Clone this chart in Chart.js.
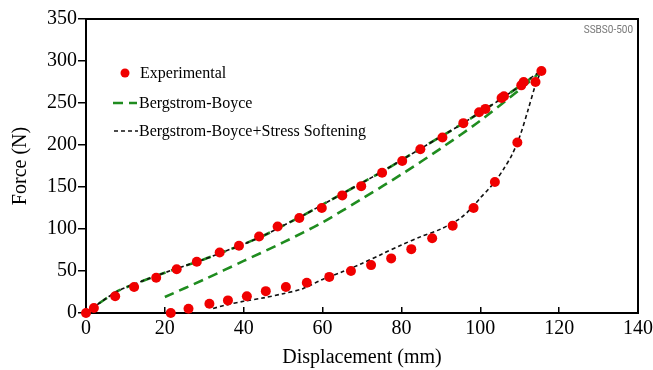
<!DOCTYPE html>
<html>
<head>
<meta charset="utf-8">
<script src="https://cdn.jsdelivr.net/npm/chart.js@4.4.1/dist/chart.umd.min.js"></script>
<style>
  html, body { margin: 0; padding: 0; background: #fff; }
</style>
</head>
<body>
<canvas id="forceChart" width="653" height="370"></canvas>
<script>
// experimental points: loading branch then unloading branch
const expX = [0, 2, 7.4, 12.2, 17.8, 23, 28.1, 33.9, 38.8, 43.9, 48.6, 54.1, 59.8, 65, 69.8, 75.1, 80.2, 84.8, 90.4, 95.7, 99.7, 101.3, 105.4, 106, 110.4, 111, 115.5,
              114, 109.4, 103.7, 98.3, 93, 87.8, 82.5, 77.4, 72.3, 67.2, 61.7, 56, 50.7, 45.6, 40.8, 36, 31.3, 26, 21.5];
const expY = [0, 6, 20, 31, 42, 52, 61, 72, 80, 91, 103, 113, 125, 140, 151, 167, 181, 195, 209, 226, 239, 243, 256, 258, 271, 275, 288,
              275, 203, 156, 125, 104, 89, 76, 65, 57, 50, 43, 36, 31, 26, 20, 15, 11, 5, 0];

// loading curve (both models follow it)
const loadX = [0, 2, 5, 8, 12, 16, 20, 25, 30, 35, 40, 45, 50, 55, 60, 65, 70, 75, 80, 85, 90, 95, 100, 105, 110, 115];
const loadY = [0, 7, 17, 26, 34, 41, 48, 56, 64, 73, 82, 92, 104, 116, 129, 142, 155, 168, 182, 196, 210, 224, 239, 254, 270, 286];

// Bergstrom-Boyce unloading
const bbUnloadX = [110, 100, 90, 80, 70, 60, 50, 40, 30, 20];
const bbUnloadY = [266, 229, 196, 165, 136, 108, 84, 62, 40, 19];

// Bergstrom-Boyce + stress softening unloading
const ssUnloadX = [114, 112, 110, 108, 106, 104, 102, 100, 98, 95, 90, 85, 80, 75, 70, 65, 60, 55, 50, 45, 40, 35, 32];
const ssUnloadY = [272, 240, 210, 188, 172, 158, 147, 137, 126, 113, 100, 91, 81, 70, 59, 49, 40, 29, 23, 18, 14, 9, 5];

const xTicks = [0, 20, 40, 60, 80, 100, 120, 140];
const yTicks = [0, 50, 100, 150, 200, 250, 300, 350];

const toPts = (xs, ys) => xs.map((x, i) => ({ x: x, y: ys[i] }));

const serif = '"Liberation Serif", "Times New Roman", serif';

// box frame, legend inside the plot and the small sample tag
const framePlugin = {
    id: 'frame',
    beforeDatasetsDraw(chart) {
        const { ctx, chartArea: a } = chart;
        ctx.save();
        ctx.strokeStyle = '#000';
        ctx.lineWidth = 2;
        ctx.strokeRect(a.left, a.top, a.right - a.left, a.bottom - a.top);
        ctx.restore();
    },
    afterDraw(chart) {
        const { ctx, chartArea: a } = chart;
        const ds = chart.data.datasets;
        ctx.save();
        ctx.font = '16px ' + serif;
        ctx.fillStyle = '#000';
        ctx.textBaseline = 'middle';
        // Experimental
        ctx.beginPath();
        ctx.arc(125, 73, 4.5, 0, Math.PI * 2);
        ctx.fillStyle = ds[0].backgroundColor;
        ctx.fill();
        ctx.fillStyle = '#000';
        ctx.fillText(ds[0].label, 140, 74);
        // Bergstrom-Boyce
        ctx.strokeStyle = ds[2].borderColor;
        ctx.lineWidth = ds[2].borderWidth;
        ctx.setLineDash(ds[2].borderDash);
        ctx.beginPath();
        ctx.moveTo(113, 103);
        ctx.lineTo(137, 103);
        ctx.stroke();
        ctx.fillText(ds[2].label, 139, 104);
        // Bergstrom-Boyce+Stress Softening
        ctx.strokeStyle = ds[1].borderColor;
        ctx.lineWidth = ds[1].borderWidth;
        ctx.setLineDash(ds[1].borderDash);
        ctx.beginPath();
        ctx.moveTo(114, 131);
        ctx.lineTo(138, 131);
        ctx.stroke();
        ctx.fillText(ds[1].label, 139, 132);
        ctx.setLineDash([]);
        // tag
        ctx.font = '10px Roboto, sans-serif';
        ctx.fillStyle = '#777';
        ctx.textAlign = 'right';
        ctx.fillText('SSBS0-500', a.right - 5, 30);
        ctx.restore();
    }
};

const ctx = document.getElementById('forceChart').getContext('2d');
const forceChart = new Chart(ctx, {
    type: 'scatter',
    data: {
        datasets: [{
            label: 'Experimental',
            data: toPts(expX, expY),
            backgroundColor: '#f00000',
            borderColor: '#f00000',
            pointRadius: 5,
            pointHoverRadius: 5,
            borderWidth: 0,
            clip: false,
            order: 0
        }, {
            label: 'Bergstrom-Boyce+Stress Softening',
            data: toPts(loadX.concat(ssUnloadX), loadY.concat(ssUnloadY)),
            showLine: true,
            borderColor: '#111',
            borderWidth: 1.6,
            borderDash: [4, 3],
            pointRadius: 0,
            tension: 0.3,
            clip: false,
            order: 1
        }, {
            label: 'Bergstrom-Boyce',
            data: toPts(loadX.concat(bbUnloadX), loadY.concat(bbUnloadY)),
            showLine: true,
            borderColor: '#1f8c1f',
            borderWidth: 2.6,
            borderDash: [10, 6],
            pointRadius: 0,
            tension: 0.3,
            clip: false,
            order: 2
        }]
    },
    options: {
        responsive: false,
        animation: false,
        layout: {
            padding: { top: 19, right: 0, left: 0, bottom: 0 }
        },
        plugins: {
            legend: { display: false },
            tooltip: { enabled: false }
        },
        scales: {
            x: {
                type: 'linear',
                min: 0,
                max: 140,
                afterFit: function(scale) {
                    scale.height = 57;
                    scale.paddingRight = 15; // keep room just for half of "140"
                },
                afterBuildTicks: function(scale) {
                    scale.ticks = xTicks.map(v => ({ value: v }));
                },
                title: {
                    display: true,
                    text: 'Displacement (mm)',
                    color: '#000',
                    font: { family: serif, size: 20 },
                    padding: { top: 0, bottom: 0 }
                },
                grid: {
                    drawOnChartArea: false,
                    drawTicks: true,
                    tickLength: -6,
                    color: '#000',
                    lineWidth: 1.5
                },
                border: { display: true, color: '#000', width: 2 },
                ticks: {
                    color: '#000',
                    font: { family: serif, size: 20 },
                    padding: 10,
                    maxRotation: 0
                }
            },
            y: {
                type: 'linear',
                min: 0,
                max: 350,
                afterFit: function(scale) { scale.width = 86; },
                afterBuildTicks: function(scale) {
                    scale.ticks = yTicks.map(v => ({ value: v }));
                },
                title: {
                    display: true,
                    text: 'Force (N)',
                    color: '#000',
                    font: { family: serif, size: 20 },
                    padding: { top: 9, bottom: 0 }
                },
                grid: {
                    drawOnChartArea: false,
                    drawTicks: true,
                    tickLength: 8,
                    color: '#000',
                    lineWidth: 1.5
                },
                border: { display: true, color: '#000', width: 2 },
                ticks: {
                    color: '#000',
                    font: { family: serif, size: 20 },
                    padding: 1
                }
            }
        }
    },
    plugins: [framePlugin]
});
</script>
</body>
</html>
